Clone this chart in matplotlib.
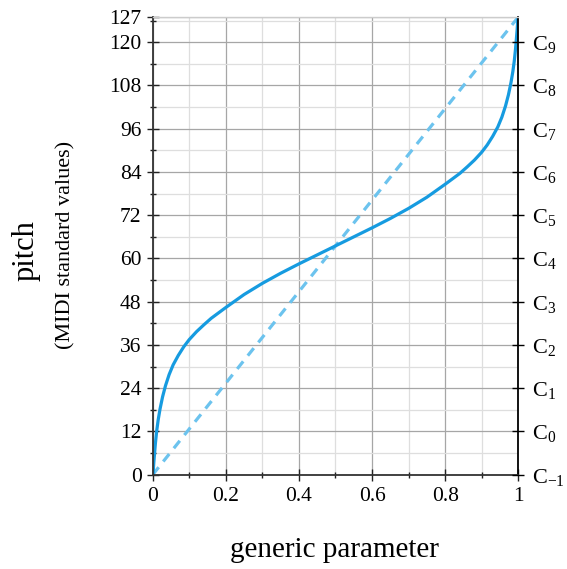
import numpy as np
import matplotlib
matplotlib.use("Agg")
import matplotlib.pyplot as plt
from matplotlib.ticker import MultipleLocator, FixedLocator

plt.rcParams['font.family'] = ['Liberation Serif', 'DejaVu Serif']
plt.rcParams['mathtext.fontset'] = 'custom'
plt.rcParams['mathtext.rm'] = 'Liberation Serif'
plt.rcParams['mathtext.it'] = 'Liberation Serif:italic'

# curve: parameter -> MIDI pitch
param = [0.000, 0.001, 0.002, 0.003, 0.005, 0.0075, 0.011, 0.015, 0.020, 0.027,
         0.035, 0.045, 0.056, 0.070, 0.085, 0.100, 0.120, 0.140, 0.160, 0.180,
         0.200, 0.250, 0.300, 0.350, 0.400, 0.450, 0.500, 0.550, 0.600, 0.650,
         0.700, 0.750, 0.800, 0.820, 0.840, 0.860, 0.880, 0.900, 0.915, 0.930,
         0.944, 0.955, 0.965, 0.973, 0.980, 0.985, 0.989, 0.9925, 0.995, 0.997,
         0.998, 0.999, 1.000]
pitch = [0, 0, 1.8, 3.3, 5.8, 8.8, 12.2, 15.2, 18.2, 21.6,
         24.7, 27.8, 30.5, 33.1, 35.5, 37.5, 39.7, 41.6, 43.4, 44.9,
         46.4, 50.0, 53.1, 55.9, 58.5, 61.0, 63.5, 66.0, 68.5, 71.1,
         73.9, 77.0, 80.6, 82.1, 83.6, 85.4, 87.3, 89.5, 91.5, 93.9,
         96.5, 99.2, 102.3, 105.4, 108.8, 111.8, 114.8, 118.2, 121.2, 123.7,
         125.2, 127, 127]

# linear reference
lin_x = [0, 1]
lin_y = [0, 127]

left_ticks = [0, 12, 24, 36, 48, 60, 72, 84, 96, 108, 120, 127]
right_ticks = [0, 12, 24, 36, 48, 60, 72, 84, 96, 108, 120]
right_labels = ['C$_{-1}$', 'C$_{0}$', 'C$_{1}$', 'C$_{2}$', 'C$_{3}$', 'C$_{4}$',
                'C$_{5}$', 'C$_{6}$', 'C$_{7}$', 'C$_{8}$', 'C$_{9}$']
x_ticks = [0, 0.2, 0.4, 0.6, 0.8, 1]
x_labels = ['0', '0.2', '0.4', '0.6', '0.8', '1']

fig = plt.figure(figsize=(5.67, 5.69), dpi=100)
ax = fig.add_axes([0.2693, 0.1657, 0.6448, 0.8044])

ax.set_xlim(0, 1)
ax.set_ylim(0, 127)

# grid
ax.xaxis.set_major_locator(FixedLocator(x_ticks))
ax.xaxis.set_minor_locator(MultipleLocator(0.1))
ax.yaxis.set_major_locator(FixedLocator(left_ticks))
ax.yaxis.set_minor_locator(MultipleLocator(6))
ax.grid(which='major', color='#a6a6a6', lw=0.9)
ax.grid(which='minor', color='#dedede', lw=0.9)
ax.set_axisbelow(True)

ax.plot(lin_x, lin_y, color='#6cc3ee', lw=2.3, dashes=(3.0, 2.3), solid_capstyle='butt')
ax.plot(param, pitch, color='#169be0', lw=2.3, solid_capstyle='round')

ax.set_xticklabels(x_labels)
ax.set_yticklabels([str(t) for t in left_ticks])
ax.tick_params(which='major', direction='inout', length=8, width=1, labelsize=15.5, color='#222222')
ax.tick_params(which='minor', direction='inout', length=5, width=1, color='#222222')
ax.tick_params(axis='x', pad=5)
ax.tick_params(axis='y', pad=4)

for s in ['left', 'bottom']:
    ax.spines[s].set_color('#333333')
    ax.spines[s].set_linewidth(1.3)
ax.spines['top'].set_color('#cccccc')
ax.spines['top'].set_linewidth(1)
ax.spines['right'].set_color('black')
ax.spines['right'].set_linewidth(1.3)

ax2 = ax.twinx()
ax2.set_ylim(0, 127)
ax2.set_yticks(right_ticks)
ax2.set_yticklabels(right_labels)
ax2.tick_params(direction='inout', length=8, width=1, labelsize=16, pad=6)
for s in ax2.spines.values():
    s.set_visible(False)

fig.text(0.590, 0.033, 'generic parameter', ha='center', va='center', fontsize=21)
fig.text(0.046, 0.56, 'pitch', ha='center', va='center', rotation=90, fontsize=22)
fig.text(0.116, 0.57, '(MIDI standard values)', ha='center', va='center', rotation=90, fontsize=16)

fig.savefig('out.png', dpi=100)
